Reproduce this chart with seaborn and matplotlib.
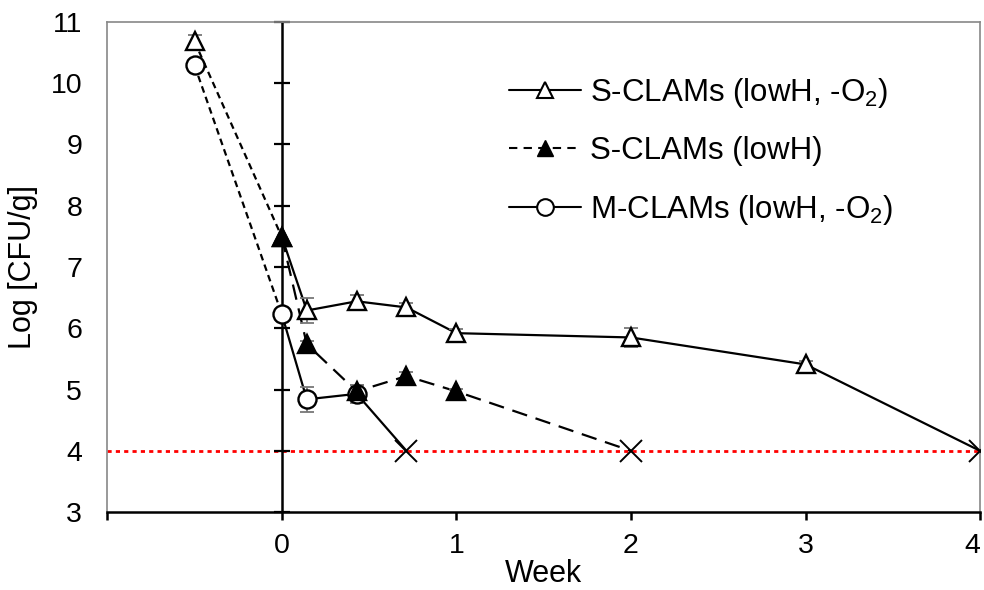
import matplotlib
matplotlib.use('Agg')
import matplotlib.pyplot as plt
from matplotlib.lines import Line2D
import numpy as np
import seaborn as sns

# weeks (day 1, 3, 5 -> 1/7, 3/7, 5/7 week); -0.5 = before drying
s_o2_x = [-0.5, 0, 0.143, 0.429, 0.714, 1, 2, 3]
s_o2_y = [10.68, 7.49, 6.29, 6.44, 6.34, 5.92, 5.85, 5.41]
s_o2_err = [0.1, 0.0, 0.2, 0.1, 0.07, 0.06, 0.15, 0.05]

s_x = [0, 0.143, 0.429, 0.714, 1]
s_y = [7.49, 5.74, 4.97, 5.22, 4.97]
s_err = [0.0, 0.05, 0.1, 0.06, 0.04]

m_x = [-0.5, 0, 0.143, 0.429]
m_y = [10.29, 6.23, 4.84, 4.93]
m_err = [0.06, 0.06, 0.2, 0.15]

# below detection limit (log 4)
lod = 4
s_o2_end = 4
s_end = 2
m_end = 0.714

labels = ['S-CLAMs (lowH, -O$_2$)', 'S-CLAMs (lowH)', 'M-CLAMs (lowH, -O$_2$)']

sns.set_style('white')
plt.rcParams['font.family'] = ['Liberation Sans', 'DejaVu Sans']
plt.rcParams['mathtext.fontset'] = 'custom'
plt.rcParams['mathtext.rm'] = 'Liberation Sans'
for k in ['text.color', 'axes.labelcolor', 'xtick.color', 'ytick.color']:
    plt.rcParams[k] = 'black'

fig, ax = plt.subplots(figsize=(9.84, 5.9), dpi=100)
fig.subplots_adjust(left=0.109, right=0.996, top=0.963, bottom=0.132)

ax.axhline(lod, color='red', linestyle=(0, (1.5, 1.5)), linewidth=2, zorder=1)

series = [
    (s_o2_x, s_o2_y, s_o2_err, s_o2_end, '-', '^', 'white'),
    (s_x, s_y, s_err, s_end, (0, (7, 4)), '^', 'black'),
    (m_x, m_y, m_err, m_end, '-', 'o', 'white'),
]

for x, y, err, end, ls, mk, fc in series:
    if x[0] < 0:
        # before drying -> week 0 drawn dotted
        sns.lineplot(x=x[:2], y=y[:2], ax=ax, color='black', linestyle=(0, (3, 2)),
                     linewidth=1.6, sort=False, zorder=2)
        xs, ys = x[1:] + [end], y[1:] + [lod]
    else:
        xs, ys = x + [end], y + [lod]
    sns.lineplot(x=xs, y=ys, ax=ax, color='black', linestyle=ls,
                 linewidth=1.6, sort=False, zorder=2)
    keep = [i for i, e in enumerate(err) if e > 0]
    ax.errorbar([x[i] for i in keep], [y[i] for i in keep], yerr=[err[i] for i in keep],
                fmt='none', ecolor='#777777', elinewidth=1.3,
                capsize=5, capthick=1.3, zorder=3)

for x, y, err, end, ls, mk, fc in series:
    ax.plot(x, y, linestyle='none', marker=mk, markersize=13 if mk == 'o' else 12.5,
            markerfacecolor=fc, markeredgecolor='black', markeredgewidth=1.7,
            zorder=5 if fc == 'black' else 4)
    ax.plot([end], [lod], linestyle='none', marker='x', markersize=16,
            markeredgecolor='black', markeredgewidth=1.4, zorder=5)

# vertical axis at week 0 with cross ticks
ax.axvline(0, color='black', linewidth=1.8, zorder=2)
yt = np.arange(3, 12)
ax.plot(np.zeros(len(yt)), yt, linestyle='none', marker='_', markersize=12,
        markeredgewidth=1.6, color='black', zorder=2, clip_on=False)

ax.set_xlim(-1, 4)
ax.set_ylim(3, 11)
ax.set_yticks(yt)
ax.set_xticks([-1, 0, 1, 2, 3, 4])
ax.set_xticklabels(['', '0', '1', '2', '3', '4'])
ax.get_xticklabels()[-1].set_horizontalalignment('right')
ax.tick_params(axis='y', length=0, pad=18, labelsize=20.5)
ax.tick_params(axis='x', direction='out', length=6, width=1.8, color='black',
               bottom=True, pad=9, labelsize=20.5)

for side in ['left', 'top', 'right']:
    ax.spines[side].set_color('#888888')
    ax.spines[side].set_linewidth(1.2)
ax.spines['bottom'].set_color('black')
ax.spines['bottom'].set_linewidth(1.8)

ax.set_xlabel('Week', fontsize=22, labelpad=0)
ax.set_ylabel('Log [CFU/g]', fontsize=22, labelpad=9)

handles = [
    Line2D([], [], color='black', linestyle='-', linewidth=1.5, marker='^',
           markersize=12, markerfacecolor='white', markeredgecolor='black', markeredgewidth=1.5),
    Line2D([], [], color='black', linestyle=(0, (4, 3)), linewidth=1.5, marker='^',
           markersize=12, markerfacecolor='black', markeredgecolor='black'),
    Line2D([], [], color='black', linestyle='-', linewidth=1.5, marker='o',
           markersize=12, markerfacecolor='white', markeredgecolor='black', markeredgewidth=1.5),
]
ax.legend(handles, labels, loc='upper left', bbox_to_anchor=(0.46, 0.89),
          frameon=False, fontsize=22.5, handlelength=2.3, handletextpad=0.3,
          labelspacing=0.85, borderpad=0, borderaxespad=0)

plt.savefig('out.png', dpi=100)
